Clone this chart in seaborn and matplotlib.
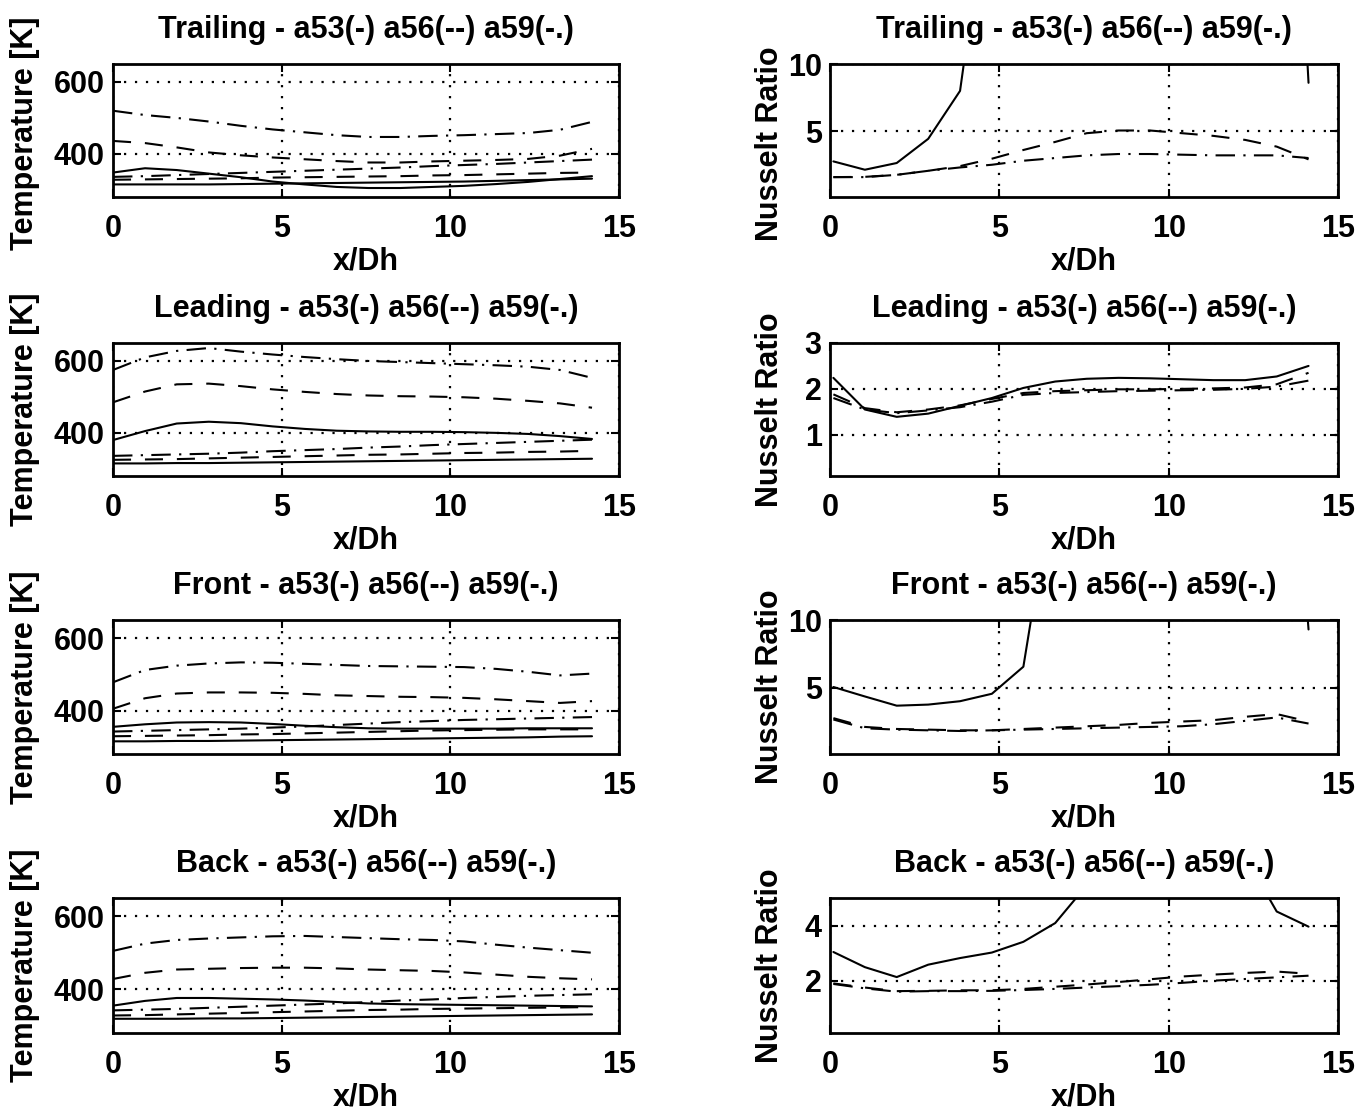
import numpy as np
import pandas as pd
import matplotlib
matplotlib.use("Agg")
import matplotlib.pyplot as plt
import seaborn as sns

# ---------------- data ----------------
X_TEMP = [0.0, 0.95, 1.89, 2.84, 3.79, 4.73, 5.68, 6.63, 7.57, 8.52, 9.47, 10.41, 11.36, 12.31, 13.25, 14.2]
X_NU = [0.1, 1.03, 1.97, 2.9, 3.84, 4.78, 5.71, 6.65, 7.58, 8.52, 9.45, 10.39, 11.32, 12.26, 13.19, 14.13]

SURFACES = ["Trailing", "Leading", "Front", "Back"]
CASES = ["a53", "a56", "a59"]
TITLE_SUFFIX = " - a53(-) a56(--) a59(-.)"

# Temperatures [K]: wall (upper) and bulk (lower) curve for each case
trailing_a53_wall = [348, 360, 355, 345, 335, 323, 315, 308, 305, 305, 308, 311, 316, 322, 330, 338]
trailing_a53_bulk = [315, 315, 315, 315, 316, 317, 318, 319, 320, 321, 322, 323, 325, 327, 329, 331]
trailing_a56_wall = [436, 430, 418, 404, 396, 390, 385, 380, 376, 376, 379, 381, 383, 386, 395, 414]
trailing_a56_bulk = [328, 329, 330, 331, 332, 334, 335, 336, 337, 338, 340, 341, 343, 345, 347, 348]
trailing_a59_wall = [520, 508, 500, 490, 478, 468, 460, 452, 447, 447, 450, 452, 455, 458, 467, 489]
trailing_a59_bulk = [336, 338, 341, 344, 347, 350, 353, 356, 359, 362, 366, 369, 372, 376, 380, 384]

leading_a53_wall = [380, 405, 426, 431, 427, 418, 411, 406, 404, 403, 403, 402, 400, 397, 391, 383]
leading_a53_bulk = [315, 315, 316, 316, 317, 318, 319, 320, 321, 322, 323, 324, 325, 326, 327, 328]
leading_a56_wall = [485, 515, 535, 537, 530, 521, 514, 508, 504, 502, 501, 499, 495, 489, 482, 470]
leading_a56_bulk = [325, 326, 327, 329, 331, 333, 335, 337, 339, 340, 342, 344, 345, 347, 348, 350]
leading_a59_wall = [575, 610, 628, 636, 626, 618, 611, 605, 600, 597, 594, 591, 588, 584, 575, 553]
leading_a59_bulk = [336, 338, 340, 342, 345, 349, 352, 355, 359, 362, 366, 369, 372, 375, 378, 381]

front_a53_wall = [355, 362, 367, 368, 367, 363, 358, 354, 351, 350, 350, 350, 350, 351, 351, 351]
front_a53_bulk = [315, 315, 316, 316, 317, 318, 319, 320, 321, 322, 323, 324, 325, 326, 328, 329]
front_a56_wall = [405, 434, 447, 450, 450, 449, 446, 442, 440, 438, 437, 435, 431, 426, 421, 426]
front_a56_bulk = [329, 330, 331, 332, 334, 335, 337, 339, 341, 343, 345, 346, 347, 348, 348, 348]
front_a59_wall = [478, 512, 524, 530, 533, 532, 529, 526, 523, 522, 521, 520, 515, 507, 497, 502]
front_a59_bulk = [342, 344, 346, 348, 350, 353, 356, 360, 364, 368, 371, 374, 376, 378, 380, 382]

back_a53_wall = [355, 368, 376, 376, 374, 372, 369, 365, 361, 359, 358, 357, 356, 355, 354, 353]
back_a53_bulk = [319, 319, 319, 320, 320, 321, 322, 323, 324, 325, 326, 327, 328, 329, 330, 331]
back_a56_wall = [428, 445, 454, 456, 458, 459, 459, 457, 454, 452, 450, 446, 440, 434, 430, 427]
back_a56_bulk = [328, 329, 331, 333, 335, 337, 339, 341, 343, 344, 346, 347, 348, 349, 350, 351]
back_a59_wall = [505, 525, 535, 539, 542, 545, 546, 543, 540, 537, 535, 531, 522, 514, 507, 500]
back_a59_bulk = [342, 344, 346, 349, 352, 355, 358, 361, 365, 369, 372, 376, 379, 382, 384, 386]

# Nusselt ratios (values above the axis top are clipped in the figure)
trailing_a53_nu = [2.75, 2.13, 2.63, 4.43, 8.0, 25.0, 35.0, 40.0, 45.0, 48.0, 50.0, 50.0, 50.0, 50.0, 52.0, 8.6]
trailing_a56_nu = [1.58, 1.6, 1.75, 2.05, 2.4, 2.95, 3.6, 4.2, 4.85, 5.05, 5.05, 4.85, 4.65, 4.35, 3.85, 2.9]
trailing_a59_nu = [1.58, 1.58, 1.75, 2.05, 2.3, 2.5, 2.8, 3.0, 3.2, 3.3, 3.3, 3.25, 3.2, 3.2, 3.2, 3.0]

leading_a53_nu = [2.24, 1.55, 1.39, 1.46, 1.63, 1.8, 2.02, 2.16, 2.22, 2.24, 2.23, 2.21, 2.19, 2.19, 2.27, 2.5]
leading_a56_nu = [1.88, 1.58, 1.49, 1.55, 1.64, 1.78, 1.91, 1.95, 1.97, 1.99, 1.99, 2.0, 2.01, 2.03, 2.1, 2.35]
leading_a59_nu = [1.8, 1.55, 1.47, 1.53, 1.6, 1.72, 1.87, 1.91, 1.93, 1.95, 1.96, 1.97, 1.98, 2.0, 2.05, 2.18]

front_a53_nu = [5.05, 4.35, 3.67, 3.75, 4.0, 4.55, 6.55, 21.0, 30.0, 35.0, 38.0, 40.0, 40.0, 40.0, 40.0, 9.3]
front_a56_nu = [2.75, 2.1, 1.95, 1.9, 1.85, 1.85, 1.95, 2.05, 2.15, 2.25, 2.4, 2.5, 2.6, 2.85, 3.05, 2.5]
front_a59_nu = [2.65, 2.0, 1.9, 1.85, 1.8, 1.85, 1.9, 1.95, 2.0, 2.05, 2.1, 2.15, 2.3, 2.55, 2.8, 2.35]

back_a53_nu = [3.04, 2.49, 2.13, 2.58, 2.82, 3.02, 3.41, 4.09, 5.46, 7.0, 8.0, 8.0, 7.5, 6.5, 4.51, 3.96]
back_a56_nu = [1.9, 1.75, 1.62, 1.63, 1.65, 1.65, 1.7, 1.78, 1.86, 1.95, 2.05, 2.15, 2.22, 2.28, 2.33, 2.25]
back_a59_nu = [1.88, 1.72, 1.6, 1.62, 1.62, 1.63, 1.66, 1.7, 1.75, 1.8, 1.85, 1.92, 2.0, 2.06, 2.12, 2.18]

TEMP_YLIM = (280, 650)
TEMP_YTICKS = [400, 600]
NU_YLIMS = {"Trailing": (0.1, 10), "Leading": (0.1, 3), "Front": (0.1, 10), "Back": (0.1, 5)}
NU_YTICKS = {"Trailing": [5, 10], "Leading": [1, 2, 3], "Front": [5, 10], "Back": [2, 4]}
XTICKS = [0, 5, 10, 15]

temps = {
    "Trailing": {"a53": (trailing_a53_wall, trailing_a53_bulk), "a56": (trailing_a56_wall, trailing_a56_bulk), "a59": (trailing_a59_wall, trailing_a59_bulk)},
    "Leading": {"a53": (leading_a53_wall, leading_a53_bulk), "a56": (leading_a56_wall, leading_a56_bulk), "a59": (leading_a59_wall, leading_a59_bulk)},
    "Front": {"a53": (front_a53_wall, front_a53_bulk), "a56": (front_a56_wall, front_a56_bulk), "a59": (front_a59_wall, front_a59_bulk)},
    "Back": {"a53": (back_a53_wall, back_a53_bulk), "a56": (back_a56_wall, back_a56_bulk), "a59": (back_a59_wall, back_a59_bulk)},
}
nus = {
    "Trailing": {"a53": trailing_a53_nu, "a56": trailing_a56_nu, "a59": trailing_a59_nu},
    "Leading": {"a53": leading_a53_nu, "a56": leading_a56_nu, "a59": leading_a59_nu},
    "Front": {"a53": front_a53_nu, "a56": front_a56_nu, "a59": front_a59_nu},
    "Back": {"a53": back_a53_nu, "a56": back_a56_nu, "a59": back_a59_nu},
}

# ---------------- style ----------------
sns.set_theme(style="white")
plt.rcParams["font.family"] = ["Liberation Sans", "DejaVu Sans"]
plt.rcParams["font.weight"] = "bold"
plt.rcParams["axes.titleweight"] = "bold"
plt.rcParams["axes.labelweight"] = "bold"
plt.rcParams["lines.scale_dashes"] = False
FS = 22

LS = {"a53": "-", "a56": (0, (13, 10)), "a59": (0, (14, 6, 1.6, 6))}
LW = 1.5

fig = plt.figure(figsize=(13.68, 11.11), dpi=100)
W, H = 1368, 1111
col_left = [113, 830]
col_right = [619, 1338]
rows = [(64, 197), (343, 476), (620, 754), (898, 1033)]
YLABEL_X = [-0.144, -0.089]
YLABEL_Y = {("Trailing", 1): 0.40, ("Trailing", 0): 0.48}


def style_axes(ax, ylim, yticks, title, ylabel, lx, ly):
    ax.set_xlim(0, 15)
    ax.set_ylim(*ylim)
    ax.set_xticks(XTICKS)
    ax.set_yticks(yticks)
    ax.set_xticklabels([str(t) for t in XTICKS], fontsize=FS)
    ax.set_yticklabels([str(t) for t in yticks], fontsize=FS)
    ax.tick_params(direction="in", length=6, width=1.5, top=True, right=True,
                   bottom=True, left=True, colors="black")
    ax.tick_params(axis="x", pad=12)
    ax.tick_params(axis="y", pad=6)
    ax.grid(True, color="black", linestyle=(0, (1.6, 6.3)), linewidth=1.6)
    for s in ax.spines.values():
        s.set_color("black")
        s.set_linewidth(2)
        s.set_visible(True)
    ax.set_title(title, fontsize=FS, pad=19, color="black")
    ax.set_xlabel("x/Dh", fontsize=FS, labelpad=2, color="black")
    ax.set_ylabel(ylabel, fontsize=FS, color="black")
    ax.yaxis.set_label_coords(lx, ly)
    ax.set_facecolor("white")


for r, surf in enumerate(SURFACES):
    top, bot = rows[r]
    for c in range(2):
        ax = fig.add_axes([col_left[c] / W, 1 - bot / H, (col_right[c] - col_left[c]) / W, (bot - top) / H])
        ly = YLABEL_Y.get((surf, c), 0.5)
        if c == 0:
            for case in CASES:
                for series in temps[surf][case]:
                    sns.lineplot(x=X_TEMP, y=series, ax=ax, color="black",
                                 linestyle=LS[case], linewidth=LW, sort=False)
            style_axes(ax, TEMP_YLIM, TEMP_YTICKS, surf + TITLE_SUFFIX, "Temperature [K]", YLABEL_X[c], ly)
        else:
            for case in CASES:
                sns.lineplot(x=X_NU, y=nus[surf][case], ax=ax, color="black",
                             linestyle=LS[case], linewidth=LW, sort=False)
            style_axes(ax, NU_YLIMS[surf], NU_YTICKS[surf], surf + TITLE_SUFFIX, "Nusselt Ratio", YLABEL_X[c], ly)

fig.savefig("out.png", dpi=100, facecolor="white")
